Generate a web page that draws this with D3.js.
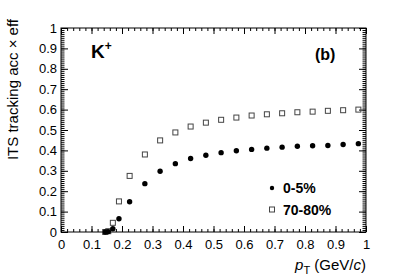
<!DOCTYPE html>
<html>
<head>
<meta charset="utf-8">
<script src="https://cdn.jsdelivr.net/npm/d3@7"></script>
<style>
  body { margin: 0; background: #fff; }
  svg { display: block; font-family: "Liberation Sans", Arial, sans-serif; }
</style>
</head>
<body>
<svg width="407" height="276"></svg>
<script>
// pT bins (GeV/c)
const ptCentral = [0.145, 0.155, 0.17, 0.19, 0.225, 0.275, 0.325, 0.375, 0.425, 0.475, 0.525, 0.575, 0.625, 0.675, 0.725, 0.775, 0.825, 0.875, 0.925, 0.975];
const effCentral = [0.0, 0.002, 0.016, 0.065, 0.148, 0.237, 0.298, 0.335, 0.36, 0.376, 0.389, 0.398, 0.405, 0.411, 0.416, 0.42, 0.423, 0.424, 0.429, 0.433];
const ptPeripheral = [0.145, 0.155, 0.17, 0.19, 0.225, 0.275, 0.325, 0.375, 0.425, 0.475, 0.525, 0.575, 0.625, 0.675, 0.725, 0.775, 0.825, 0.875, 0.925, 0.975];
const effPeripheral = [0.0, 0.004, 0.045, 0.15, 0.275, 0.38, 0.449, 0.488, 0.517, 0.536, 0.55, 0.561, 0.571, 0.577, 0.582, 0.587, 0.59, 0.594, 0.597, 0.6];
const xTicks = [0, 0.1, 0.2, 0.3, 0.4, 0.5, 0.6, 0.7, 0.8, 0.9, 1];
const yTicks = [0, 0.1, 0.2, 0.3, 0.4, 0.5, 0.6, 0.7, 0.8, 0.9, 1];

const svg = d3.select("svg");
const mLeft = 61, mRight = 366, mTop = 28, mBottom = 232;

const x = d3.scaleLinear().domain([0, 1]).range([mLeft, mRight]);
const y = d3.scaleLinear().domain([0, 1]).range([mBottom, mTop]);

const minorX = d3.range(0, 1.0001, 0.02);
const minorY = d3.range(0, 1.0001, 0.01);

// frame
svg.append("rect")
  .attr("x", mLeft).attr("y", mTop)
  .attr("width", mRight - mLeft).attr("height", mBottom - mTop)
  .attr("fill", "none").attr("stroke", "#000").attr("stroke-width", 1);

const fmt = d => d === 0 ? "0" : d === 1 ? "1" : d3.format(".1f")(d);

// bottom axis
const xb = svg.append("g").attr("transform", `translate(0,${mBottom})`)
  .call(d3.axisBottom(x).tickValues(xTicks).tickFormat(fmt).tickSizeInner(-6).tickSizeOuter(0).tickPadding(8));
xb.append("g").call(d3.axisBottom(x).tickValues(minorX).tickFormat("").tickSizeInner(-3).tickSizeOuter(0));
// top axis
const xt = svg.append("g").attr("transform", `translate(0,${mTop})`)
  .call(d3.axisTop(x).tickValues(xTicks).tickFormat("").tickSizeInner(-6).tickSizeOuter(0));
xt.append("g").call(d3.axisTop(x).tickValues(minorX).tickFormat("").tickSizeInner(-3).tickSizeOuter(0));
// left axis
const yl = svg.append("g").attr("transform", `translate(${mLeft},0)`)
  .call(d3.axisLeft(y).tickValues(yTicks).tickFormat(fmt).tickSizeInner(-7).tickSizeOuter(0).tickPadding(4));
yl.append("g").call(d3.axisLeft(y).tickValues(minorY).tickFormat("").tickSizeInner(-3.5).tickSizeOuter(0));
// right axis
const yr = svg.append("g").attr("transform", `translate(${mRight},0)`)
  .call(d3.axisRight(y).tickValues(yTicks).tickFormat("").tickSizeInner(-7).tickSizeOuter(0));
yr.append("g").call(d3.axisRight(y).tickValues(minorY).tickFormat("").tickSizeInner(-3.5).tickSizeOuter(0));

svg.selectAll(".domain").remove();
svg.selectAll(".tick line").attr("stroke", "#000");
svg.selectAll(".tick text")
  .attr("font-family", "Liberation Sans, Arial, sans-serif")
  .attr("font-size", 13).attr("fill", "#000");

// peripheral: open squares
const sq = 5;
svg.append("g").selectAll("rect")
  .data(ptPeripheral.map((p, i) => [p, effPeripheral[i]]))
  .join("rect")
  .attr("x", d => x(d[0]) - sq / 2).attr("y", d => y(d[1]) - sq / 2)
  .attr("width", sq).attr("height", sq)
  .attr("fill", "none").attr("stroke", "#444").attr("stroke-width", 1);

// central: filled circles
svg.append("g").selectAll("circle")
  .data(ptCentral.map((p, i) => [p, effCentral[i]]))
  .join("circle")
  .attr("cx", d => x(d[0])).attr("cy", d => y(d[1]))
  .attr("r", 2.7).attr("fill", "#000");

// axis titles
svg.append("text")
  .attr("transform", "translate(18,19) rotate(-90)")
  .attr("text-anchor", "end")
  .attr("font-size", 15)
  .text("ITS tracking acc \u00d7 eff");

const xl = svg.append("text")
  .attr("x", mRight).attr("y", 270)
  .attr("text-anchor", "end")
  .attr("font-size", 15);
xl.append("tspan").attr("font-style", "italic").text("p");
xl.append("tspan").attr("font-size", 11).attr("dy", 4).text("T");
xl.append("tspan").attr("dy", -4).text(" (GeV/");
xl.append("tspan").attr("font-style", "italic").text("c");
xl.append("tspan").text(")");

// labels
const k = svg.append("text").attr("x", 91).attr("y", 58)
  .attr("font-size", 19).attr("font-weight", "bold");
k.append("tspan").text("K");
k.append("tspan").attr("font-size", 12).attr("dy", -8).text("+");

svg.append("text").attr("x", 315).attr("y", 60)
  .attr("font-size", 16).attr("font-weight", "bold").text("(b)");

// legend
const legend = [
  { label: "0-5%", type: "circle" },
  { label: "70-80%", type: "square" }
];
const lg = svg.append("g").selectAll("g").data(legend).join("g")
  .attr("transform", (d, i) => `translate(272,${188 + i * 21.5})`);
lg.filter(d => d.type === "circle").append("circle").attr("r", 2.2).attr("fill", "#000");
lg.filter(d => d.type === "square").append("rect")
  .attr("x", -2.5).attr("y", -2.5).attr("width", 5).attr("height", 5)
  .attr("fill", "none").attr("stroke", "#444");
lg.append("text").attr("x", 11).attr("y", 5)
  .attr("font-size", 14).attr("font-weight", "bold").text(d => d.label);
</script>
</body>
</html>
